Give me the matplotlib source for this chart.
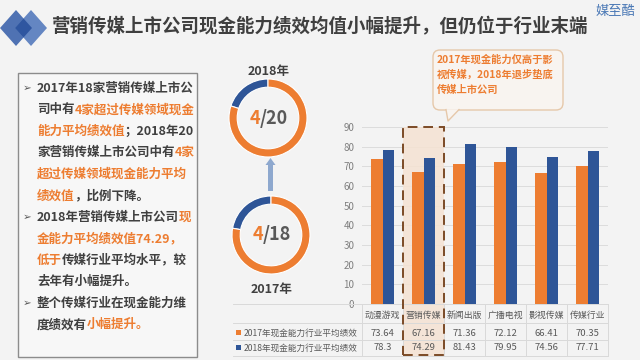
import numpy as np
import matplotlib
matplotlib.use("Agg")
import matplotlib.pyplot as plt
from matplotlib import transforms
from matplotlib.patches import Rectangle, Polygon, FancyBboxPatch, FancyArrow

plt.rcParams['font.family'] = ['Noto Sans CJK SC', 'DejaVu Sans']

# ---------------- data ----------------
categories = ['动漫游戏', '营销传媒', '新闻出版', '广播电视', '影视传媒', '传媒行业']
series_names = ['2017年现金能力行业平均绩效', '2018年现金能力行业平均绩效']
v2017 = [73.64, 67.16, 71.36, 72.12, 66.41, 70.35]
v2018 = [78.3, 74.29, 81.43, 79.95, 74.56, 77.71]
yticks = [0, 10, 20, 30, 40, 50, 60, 70, 80, 90]
highlight = '营销传媒'

donut_years = ['2017年', '2018年']
donut_above = [4, 4]
donut_total = [18, 20]

title = '营销传媒上市公司现金能力绩效均值小幅提升，但仍位于行业末端'
brand = '媒至酷'
callout = ['2017年现金能力仅高于影', '视传媒，2018年退步垫底', '传媒上市公司']

D = '#404040'
O = '#ED7D31'
B = '#2E5597'
bullet_lines = [
    (True,  [("2017年18家营销传媒上市公", D)]),
    (False, [("司中有", D), ("4家超过传媒领域现金", O)]),
    (False, [("能力平均绩效值", O), ("；2018年20", D)]),
    (False, [("家营销传媒上市公司中有", D), ("4家", O)]),
    (False, [("超过传媒领域现金能力平均", O)]),
    (False, [("绩效值", O), ("，比例下降。", D)]),
    (True,  [("2018年营销传媒上市公司", D), ("现", O)]),
    (False, [("金能力平均绩效值74.29，", O)]),
    (False, [("低于", O), ("传媒行业平均水平，较", D)]),
    (False, [("去年有小幅提升。", D)]),
    (True,  [("整个传媒行业在现金能力维", D)]),
    (False, [("度绩效有", D), ("小幅提升。", O)]),
]

# ---------------- figure ----------------
W, H = 640, 360
fig = plt.figure(figsize=(W / 100, H / 100), dpi=100)
fig.patch.set_facecolor('#F3F3F3')

def fx(x):
    return x / W

def fy(y):
    return 1 - y / H

ov = fig.add_axes([0, 0, 1, 1], zorder=0)
ov.set_xlim(0, W)
ov.set_ylim(H, 0)
ov.axis('off')

# logo diamonds
def diamond(cx, cy, hw, hh):
    return [(cx - hw, cy), (cx, cy - hh), (cx + hw, cy), (cx, cy + hh)]

ov.add_patch(Polygon(diamond(16, 28, 16, 18), closed=True, fc='#4F72B3', ec='none'))
ov.add_patch(Polygon(diamond(31, 28, 16, 18), closed=True, fc='#6486C2', ec='none'))
ov.add_patch(Polygon(diamond(23.5, 28, 8.5, 9.5), closed=True, fc='#2F56A0', ec='none'))

ov.text(52, 27, title, fontsize=13.3, fontweight='bold', color='#3F3F3F',
        ha='left', va='center')
ov.text(635, 12, brand, fontsize=9.5, color='#4A78B5', ha='right', va='center')

# left text box
ov.add_patch(Rectangle((18, 73), 179, 284, fc='#F7F7F7', ec='#8C8C8C', lw=1))

def rich(ax, x, y, segs, **kw):
    t = ax.text(x, y, segs[0][0], color=segs[0][1], ha='left', va='center', **kw)
    for s, c in segs[1:]:
        t = ax.annotate(s, xycoords=t, xy=(1, 0), ha='left', va='bottom', color=c, **kw)
    return t

y0, dy = 88.3, 21.5
for i, (bul, segs) in enumerate(bullet_lines):
    yy = y0 + i * dy
    if bul:
        ov.text(27, yy, '➢', fontsize=7.5, color='#595959', ha='center', va='center',
                family=['DejaVu Sans'])
    rich(ov, 37, yy, segs, fontsize=9, fontweight='bold')

# donuts
centers = {'2018年': (268, 118), '2017年': (271, 235)}
r = 39
for yr, above, total in zip(donut_years, donut_above, donut_total):
    cx, cy = centers[yr]
    dax = fig.add_axes([fx(cx - r), fy(cy + r), 2 * r / W, 2 * r / H], zorder=1)
    dax.pie([above, total - above], colors=[B, O], startangle=90, counterclock=True,
            wedgeprops=dict(width=0.21, edgecolor='white', linewidth=0.8))
    dax.set_xlim(-1, 1)
    dax.set_ylim(-1, 1)
    dax.axis('off')
    ov.text(cx - 8, cy, str(above), fontsize=13, fontweight='bold', color=O,
            ha='right', va='center')
    ov.text(cx - 8, cy, '/' + str(total), fontsize=13, fontweight='bold', color='#595959',
            ha='left', va='center')
    ly = cy - r - 7 if yr == '2018年' else cy + r + 16
    ov.text(cx + 1, ly, yr, fontsize=9, fontweight='bold', color=D, ha='center', va='center')

ov.add_patch(FancyArrow(270.5, 191, 0, -33, width=5, head_width=10, head_length=7,
                        length_includes_head=True, color='#8EA8CE', ec='none'))

# callout
ov.add_patch(FancyBboxPatch((433, 50), 130, 60, boxstyle='round,pad=0,rounding_size=7',
                            fc='#F8F4F0', ec='#E6C8AA', lw=1, zorder=2))
tail = [(446, 109.2), (459, 109.2), (448, 121)]
ov.add_patch(Polygon(tail, closed=True, fc='#F8F4F0', ec='none', zorder=3))
ov.plot([446, 448, 459], [109.6, 121, 109.6], color='#E6C8AA', lw=1, zorder=3)
for i, line in enumerate(callout):
    ov.text(437, 60 + i * 15, line, fontsize=7.4, fontweight='bold', color=O,
            ha='left', va='center', zorder=4)

# ---------------- bar chart ----------------
L, R, T, BOT = 362, 608, 127, 304
ax = fig.add_axes([fx(L), fy(BOT), (R - L) / W, (BOT - T) / H], zorder=2)
ax.set_facecolor('none')
x = np.arange(len(categories))
bw = 0.29
ax.bar(x - bw / 2, v2017, bw, color=O, zorder=3)
ax.bar(x + bw / 2, v2018, bw, color=B, zorder=3)
ax.set_xlim(-0.5, len(categories) - 0.5)
ax.set_ylim(0, 90)
ax.set_yticks(yticks)
ax.set_yticklabels([str(v) for v in yticks])
ax.set_xticks([])
ax.tick_params(axis='y', length=0, pad=5.5, labelsize=7, labelcolor='#7F7F7F')
for s in ax.spines.values():
    s.set_visible(False)
ax.yaxis.grid(True, color='#DCDCDC', lw=0.7, zorder=0)
ax.set_axisbelow(True)

trans = transforms.blended_transform_factory(ax.transData, ax.transAxes)
hpx = BOT - T

def ay(py):
    return (BOT - py) / hpx

def axx(px):
    return (px - L) / (R - L)

# highlight column
hi = categories.index(highlight)
ax.add_patch(Rectangle((hi - 0.5, ay(356)), 1.0, 1 - ay(356), transform=trans, clip_on=False,
                       fc='#F5E2D2', ec='none', alpha=0.85, zorder=0.6))

# table
cat_y, r1_y, r2_y = ay(315), ay(333), ay(348)
line_ys = [ay(304), ay(323), ay(340), ay(356)]
for ly in line_ys:
    ax.plot([axx(233), 1], [ly, ly], transform=ax.transAxes, clip_on=False,
            color='#D9D9D9', lw=0.7, zorder=1)
for xv in np.arange(-0.5, len(categories) + 0.5, 1.0):
    ax.plot([xv, xv], [0, ay(356)], transform=trans, clip_on=False,
            color='#D9D9D9', lw=0.7, zorder=1)
for i, c in enumerate(categories):
    ax.text(i, cat_y, c, transform=trans, ha='center', va='center', fontsize=6.4,
            color='#595959', clip_on=False)
    ax.text(i, r1_y, str(v2017[i]), transform=trans, ha='center', va='center',
            fontsize=6.8, color='#595959', clip_on=False)
    ax.text(i, r2_y, str(v2018[i]), transform=trans, ha='center', va='center',
            fontsize=6.8, color='#595959', clip_on=False)
for yy, name, col in [(r1_y, series_names[0], O), (r2_y, series_names[1], B)]:
    ax.add_patch(Rectangle((axx(236), yy - 0.012), 5 / (R - L), 5 / hpx,
                           transform=ax.transAxes, clip_on=False, fc=col, ec='none'))
    ax.text(axx(244), yy, name, transform=ax.transAxes, ha='left', va='center',
            fontsize=6.2, color='#595959', clip_on=False)

# dashed highlight border
ax.add_patch(Rectangle((hi - 0.5, ay(355)), 1.0, 1 - ay(355), transform=trans, clip_on=False,
                       fill=False, ec='#7B4A26', lw=1.4, ls=(0, (5, 3)), zorder=5))

fig.savefig('out.png', dpi=100, facecolor=fig.get_facecolor())
